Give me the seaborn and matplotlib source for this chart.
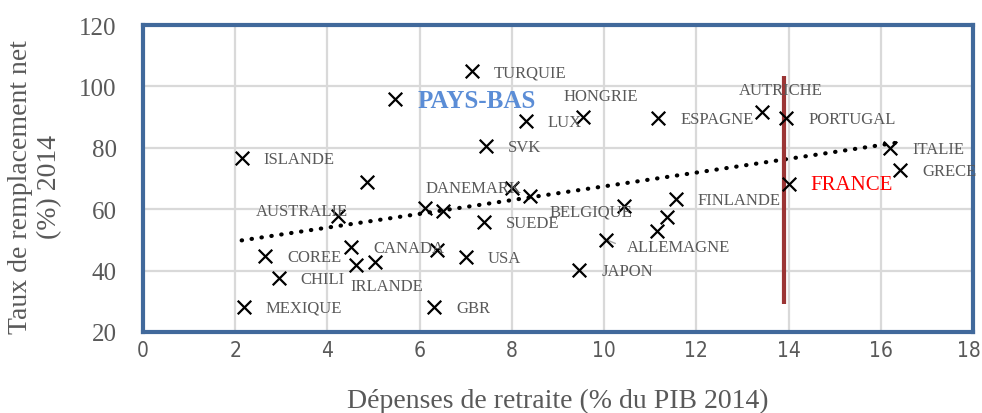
import matplotlib
matplotlib.use("Agg")
import matplotlib.pyplot as plt
import matplotlib.transforms as mtransforms
import numpy as np
import pandas as pd
import seaborn as sns

# données (dépenses en % du PIB, taux de remplacement net)
pays = ["TURQUIE", "PAYS-BAS", "LUX", "SVK", "ISLANDE", "", "DANEMARK", "",
        "HONGRIE", "ESPAGNE", "AUTRICHE", "PORTUGAL", "ITALIE", "GRECE", "FRANCE",
        "AUSTRALIE", "", "", "SUEDE", "CANADA", "", "COREE", "IRLANDE", "",
        "USA", "CHILI", "MEXIQUE", "GBR", "BELGIQUE", "FINLANDE", "", "",
        "ALLEMAGNE", "JAPON"]
depenses = [7.13, 5.47, 8.30, 7.43, 2.14, 4.85, 8.00, 8.39,
            9.55, 11.18, 13.42, 13.95, 16.20, 16.42, 14.00,
            4.24, 6.12, 6.51, 7.40, 4.51, 6.38, 2.65, 4.62, 5.03,
            7.00, 2.94, 2.19, 6.31, 10.43, 11.55, 11.36, 11.14,
            10.04, 9.46]
taux = [105.0, 95.9, 88.8, 80.7, 76.7, 69.0, 66.8, 64.4,
        89.9, 89.7, 91.8, 89.7, 80.0, 72.9, 68.2,
        57.7, 60.3, 59.5, 55.7, 47.8, 46.8, 44.7, 41.9, 42.7,
        44.5, 37.5, 28.2, 28.2, 61.1, 63.3, 57.4, 52.8,
        50.1, 40.3]

# repère vertical France
france_x = 13.9
france_y = [29.0, 103.5]

x_ticks = list(range(0, 19, 2))
y_ticks = list(range(20, 121, 20))

df = pd.DataFrame({"pays": pays, "depenses": depenses, "taux": taux})

GREY = "#595959"
SERIF = ["Liberation Serif", "DejaVu Serif"]

sns.set_theme(style="white")
plt.rcParams["font.family"] = SERIF

fig, ax = plt.subplots(figsize=(9.82, 4.14), dpi=100)
fig.subplots_adjust(left=0.1456, right=0.9908, bottom=0.196, top=0.937)

ax.set_xlim(0, 18)
ax.set_ylim(20, 120)
ax.set_xticks(x_ticks)
ax.set_yticks(y_ticks)
ax.grid(True, color="#D9D9D9", lw=1.6)
ax.set_axisbelow(True)

sns.regplot(data=df, x="depenses", y="taux", ax=ax, scatter=False, ci=None,
            truncate=True,
            line_kws=dict(color="black", lw=3, linestyle=(0, (0.1, 2.3)),
                          dash_capstyle="round"))

ax.vlines(france_x, france_y[0], france_y[1], color="#9B3535", lw=3, zorder=3)

sns.scatterplot(data=df, x="depenses", y="taux", ax=ax, marker="x", color="black",
                s=95, linewidth=1.6, zorder=4, legend=False)

# placement des étiquettes (décalage en pixels, alignement)
special = {
    "DANEMARK": (10, 0, "right"),
    "HONGRIE": (17, 21, "center"),
    "AUTRICHE": (19, 22, "center"),
    "AUSTRALIE": (9, 5, "right"),
    "IRLANDE": (-6, -21, "left"),
    "BELGIQUE": (8, -6, "right"),
    "ALLEMAGNE": (21, -7, "left"),
}
for name, xv, yv in zip(pays, depenses, taux):
    if not name:
        continue
    dx, dy, ha = special.get(name, (22, -1, "left"))
    kw = dict(color=GREY, fontsize=12)
    if name == "PAYS-BAS":
        kw = dict(color="#5B8DD6", fontsize=18, fontweight="bold")
    elif name == "FRANCE":
        kw = dict(color="#FF0000", fontsize=15)
    ax.annotate(name, (xv, yv), xytext=(dx, dy), textcoords="offset pixels",
                ha=ha, va="center", zorder=5, **kw)
    if name == "ALLEMAGNE":
        ax.annotate("", (xv, yv), xytext=(12, -5), textcoords="offset pixels",
                    arrowprops=dict(arrowstyle="-", color="#A6A6A6", lw=1))

for side in ["top", "bottom", "left", "right"]:
    ax.spines[side].set_visible(True)
    ax.spines[side].set_color("#41699B")
    ax.spines[side].set_linewidth(3)

ax.tick_params(axis="y", length=0, pad=19, labelsize=18, labelcolor=GREY)
ax.tick_params(axis="x", length=0, pad=6, labelsize=15, labelcolor=GREY)
xlabels = ax.get_xticklabels()
for lab in xlabels:
    lab.set_family("DejaVu Sans")
    lab.set_stretch("condensed")
# le dernier libellé touche le bord droit : léger décalage
xlabels[-1].set_transform(xlabels[-1].get_transform()
                          + mtransforms.ScaledTranslation(-4 / 100, 0, fig.dpi_scale_trans))

ax.set_xlabel("Dépenses de retraite (% du PIB 2014)", fontsize=20, color=GREY,
              va="center")
ax.xaxis.set_label_coords(0.5, -0.222)
ax.set_ylabel("Taux de remplacement net\n(%) 2014", fontsize=20, color=GREY,
              va="center", ha="center", multialignment="center")
ax.yaxis.set_label_coords(-0.130, 0.475)

fig.savefig("out.png", dpi=100)
plt.close(fig)
